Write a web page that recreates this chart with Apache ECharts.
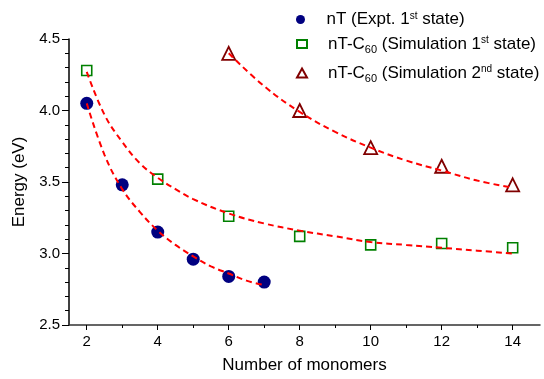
<!DOCTYPE html>
<html>
<head>
<meta charset="utf-8">
<script src="https://cdn.jsdelivr.net/npm/echarts@6/dist/echarts.min.js"></script>
<style>html,body{margin:0;padding:0;background:#fff;}#c{width:544px;height:379px;}</style>
</head>
<body>
<div id="c"></div>
<script>
// Measured points
const nT_x = [2, 3, 4, 5, 6, 7];
const nT_y = [4.05, 3.48, 3.15, 2.96, 2.84, 2.80];
const sim1_x = [2, 4, 6, 8, 10, 12, 14];
const sim1_y = [4.28, 3.52, 3.26, 3.12, 3.06, 3.07, 3.04];
const sim2_x = [6, 8, 10, 12, 14];
const sim2_y = [4.40, 4.00, 3.74, 3.61, 3.48];
// Dashed fit curves
const fitNT_x = [2, 2.5, 3, 3.5, 4, 4.5, 5, 5.5, 6, 6.5, 7];
const fitNT_y = [4.05, 3.69, 3.45, 3.29, 3.16, 3.06, 2.98, 2.91, 2.86, 2.81, 2.78];
const fit1_x = [2, 2.5, 3, 3.5, 4, 4.5, 5, 6, 7, 8, 9, 10, 11, 12, 13, 14];
const fit1_y = [4.27, 3.97, 3.78, 3.63, 3.53, 3.45, 3.38, 3.28, 3.21, 3.16, 3.12, 3.08, 3.06, 3.04, 3.02, 3.00];
const fit2_x = [6, 7, 8, 9, 10, 11, 12, 13, 14];
const fit2_y = [4.40, 4.17, 3.99, 3.85, 3.74, 3.65, 3.58, 3.51, 3.46];
// Ticks
const xMajorTicks = [2, 4, 6, 8, 10, 12, 14];
const xMinorTicks = [3, 5, 7, 9, 11, 13];
const seriesNames = ['nT (Expt. 1st state)', 'nT-C60 (Simulation 1st state)', 'nT-C60 (Simulation 2nd state)'];

const pair = (xs, ys) => xs.map((x, i) => [x, ys[i]]);
const FONT = 'Liberation Sans, Arial, sans-serif';
const rich = {
  f: {fontSize: 17, fontFamily: FONT, color: '#000', lineHeight: 24, padding: [0, 0, 0, 16]},
  m: {fontSize: 17, fontFamily: FONT, color: '#000', lineHeight: 24},
  sup: {fontSize: 10, fontFamily: FONT, color: '#000', lineHeight: 24, padding: [0, 0, 7, 0]},
  sub: {fontSize: 11, fontFamily: FONT, color: '#000', lineHeight: 24, padding: [11, 0, 0, 0]}
};
const legendFmt = {};
legendFmt[seriesNames[0]] = '{f|nT (Expt. 1}{sup|st}{m| state)}';
legendFmt[seriesNames[1]] = '{f|nT-C}{sub|60}{m| (Simulation 1}{sup|st}{m| state)}';
legendFmt[seriesNames[2]] = '{f|nT-C}{sub|60}{m| (Simulation 2}{sup|nd}{m| state)}';
const legendTops = [11, 33, 62];
const legendIcon = [9, 8, 9];
const mkLegend = (i) => ({
  data: [seriesNames[i]], left: 296, top: legendTops[i], padding: 0,
  itemWidth: 10, itemHeight: legendIcon[i], selectedMode: false, symbolKeepAspect: true,
  formatter: n => legendFmt[n], textStyle: {rich: rich}
});

const chart = echarts.init(document.getElementById('c'), null, {renderer: 'canvas'});
const axisTextStyle = {color: '#000', fontFamily: FONT, fontSize: 15};
const fitStyle = {color: '#ff0000', width: 2, type: [6, 4]};
chart.setOption({
  animation: false,
  backgroundColor: '#fff',
  grid: {left: 69, right: 4, top: 39, bottom: 50},
  legend: [mkLegend(0), mkLegend(1), mkLegend(2)],
  xAxis: [{
    type: 'value', min: 1.5, max: 14.77,
    name: 'Number of monomers', nameLocation: 'middle', nameGap: 32,
    nameTextStyle: {color: '#000', fontFamily: FONT, fontSize: 17},
    axisLine: {show: true, onZero: false, lineStyle: {color: '#333', width: 1.5}},
    axisTick: {show: true, customValues: xMajorTicks, length: 5, lineStyle: {color: '#000'}},
    axisLabel: {customValues: xMajorTicks, margin: 9, ...axisTextStyle},
    splitLine: {show: false}
  }, {
    type: 'value', min: 1.5, max: 14.77, position: 'bottom',
    axisLine: {show: false},
    axisTick: {show: true, customValues: xMinorTicks, length: 3, lineStyle: {color: '#000'}},
    axisLabel: {show: false, customValues: xMinorTicks},
    splitLine: {show: false}
  }],
  yAxis: {
    type: 'value', min: 2.5, max: 4.5, interval: 0.5,
    name: 'Energy (eV)', nameLocation: 'middle', nameGap: 41,
    nameTextStyle: {color: '#000', fontFamily: FONT, fontSize: 17},
    axisLine: {show: true, onZero: false, lineStyle: {color: '#000', width: 1.5}},
    axisTick: {show: true, length: 7, lineStyle: {color: '#000'}},
    minorTick: {show: true, splitNumber: 5, length: 4, lineStyle: {color: '#000'}},
    axisLabel: {margin: 9, formatter: v => v.toFixed(1), ...axisTextStyle},
    splitLine: {show: false}
  },
  series: [
    {name: seriesNames[0], type: 'scatter', data: pair(nT_x, nT_y), symbol: 'circle', symbolSize: 13,
     itemStyle: {color: '#000080', opacity: 1}, z: 2},
    {name: seriesNames[1], type: 'scatter', data: pair(sim1_x, sim1_y), symbol: 'rect', symbolSize: 10,
     itemStyle: {color: '#fff', borderColor: '#008000', borderWidth: 1.6, opacity: 1}, z: 2},
    {name: seriesNames[2], type: 'scatter', data: pair(sim2_x, sim2_y), symbol: 'triangle', symbolSize: 13,
     itemStyle: {color: '#fff', borderColor: '#800000', borderWidth: 1.8, opacity: 1}, z: 2},
    {type: 'line', data: pair(fitNT_x, fitNT_y), showSymbol: false, smooth: 0.4,
     lineStyle: fitStyle, z: 3, silent: true},
    {type: 'line', data: pair(fit1_x, fit1_y), showSymbol: false, smooth: 0.4,
     lineStyle: fitStyle, z: 3, silent: true},
    {type: 'line', data: pair(fit2_x, fit2_y), showSymbol: false, smooth: 0.4,
     lineStyle: fitStyle, z: 3, silent: true}
  ]
});
</script>
</body>
</html>
